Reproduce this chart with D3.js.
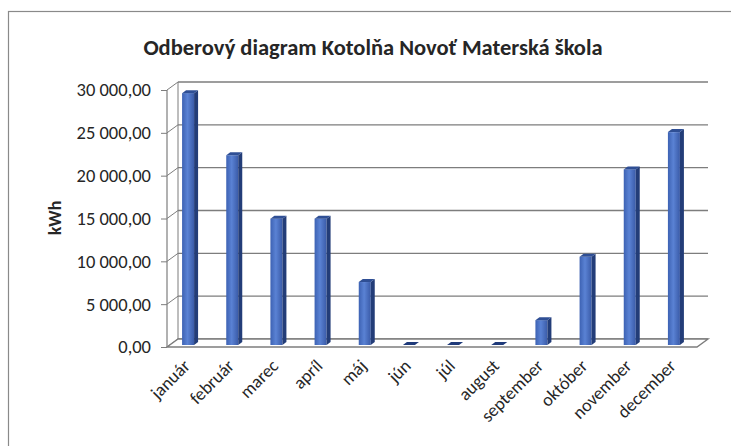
<!DOCTYPE html>
<html>
<head>
<meta charset="utf-8">
<script src="https://cdn.jsdelivr.net/npm/d3@7/dist/d3.min.js"></script>
<style>
  body { margin: 0; background: #fff; }
  text { font-family: Carlito, Lato, "Open Sans", sans-serif; fill: #262626; }
</style>
</head>
<body>
<div id="chart"></div>
<script>
// data
const months = ['január', 'február', 'marec', 'apríl', 'máj', 'jún', 'júl', 'august',
  'september', 'október', 'november', 'december'];
const kwh = [29400, 22150, 14750, 14750, 7350, 0, 0, 0, 2900, 10300, 20500, 24850];
const yTicks = [0, 5000, 10000, 15000, 20000, 25000, 30000];
const title = 'Odberový diagram Kotolňa Novoť Materská škola';
const yTitle = 'kWh';

const width = 731;
const height = 446;
// 3d box: front plane and back wall offset
const front = { left: 167, right: 697, top: 90, bottom: 347 };
const depth = { dx: 11, dy: -8 };
const barW = 12;
const barSide = 4;
const barRise = 3;

const svg = d3.select('#chart').append('svg')
  .attr('width', width)
  .attr('height', height);

// outer frame (scanned sheet)
svg.append('rect')
  .attr('x', 8.5).attr('y', 11.5)
  .attr('width', 740).attr('height', 460)
  .attr('fill', 'none')
  .attr('stroke', '#8a8a8a')
  .attr('stroke-width', 1.2);

svg.append('text')
  .attr('x', 373).attr('y', 55)
  .attr('text-anchor', 'middle')
  .style('font-size', '22.5px')
  .style('font-weight', 'bold')
  .text(title);

const y = d3.scaleLinear()
  .domain([0, 30000])
  .range([front.bottom, front.top]);

const x = d3.scaleBand()
  .domain(months)
  .range([front.left - 1, front.right - 1]);

const grid = svg.append('g');
const gridColor = '#7d7d7d';

// back wall gridlines
grid.selectAll('line.h')
  .data(yTicks)
  .enter()
  .append('line')
  .attr('x1', front.left + depth.dx)
  .attr('x2', front.right + depth.dx)
  .attr('y1', (d) => y(d) + depth.dy)
  .attr('y2', (d) => y(d) + depth.dy)
  .attr('stroke', gridColor)
  .attr('stroke-width', 1.4);

// side wall diagonals
grid.selectAll('line.s')
  .data(yTicks)
  .enter()
  .append('line')
  .attr('x1', front.left)
  .attr('x2', front.left + depth.dx)
  .attr('y1', (d) => y(d))
  .attr('y2', (d) => y(d) + depth.dy)
  .attr('stroke', gridColor)
  .attr('stroke-width', 1);

// left front edge and back wall edge
grid.append('line')
  .attr('x1', front.left).attr('x2', front.left)
  .attr('y1', y(30000)).attr('y2', y(0))
  .attr('stroke', gridColor).attr('stroke-width', 1.2);
grid.append('line')
  .attr('x1', front.left + depth.dx).attr('x2', front.left + depth.dx)
  .attr('y1', y(30000) + depth.dy).attr('y2', y(0) + depth.dy)
  .attr('stroke', gridColor).attr('stroke-width', 1);

// floor
grid.append('path')
  .attr('d', `M${front.left},${y(0)}L${front.right},${y(0)}L${front.right + depth.dx},${y(0) + depth.dy}L${front.left + depth.dx},${y(0) + depth.dy}Z`)
  .attr('fill', '#fff')
  .attr('stroke', gridColor)
  .attr('stroke-width', 1.4);

// y axis ticks and labels
const yAxis = svg.append('g')
  .attr('transform', `translate(${front.left},0)`)
  .call(d3.axisLeft(y)
    .tickValues(yTicks)
    .tickSize(6)
    .tickPadding(10)
    .tickFormat((d) => d3.format(',.2f')(d).replace(/,/g, ' ').replace('.', ',')));
yAxis.select('.domain').remove();
yAxis.selectAll('.tick line').attr('stroke', gridColor);
yAxis.selectAll('.tick text')
  .style('font-size', '18.5px')
  .style('font-family', 'Carlito, Lato, "Open Sans", sans-serif')
  .attr('fill', '#262626');

svg.append('text')
  .attr('transform', 'translate(61,218) rotate(-90)')
  .attr('text-anchor', 'middle')
  .style('font-size', '18px')
  .style('font-weight', 'bold')
  .text(yTitle);

// bars
const bar0 = y(0) - 2;
const yb = (v) => y(v) - 2;

const grad = svg.append('defs').append('linearGradient')
  .attr('id', 'barGrad').attr('x1', 0).attr('x2', 1);
grad.append('stop').attr('offset', 0).attr('stop-color', '#3d62b3');
grad.append('stop').attr('offset', 0.45).attr('stop-color', '#5a82d4');
grad.append('stop').attr('offset', 1).attr('stop-color', '#3a5ba8');

const bx = (i) => x(months[i]) + x.bandwidth() / 2 - barW / 2;

const bars = svg.append('g').selectAll('g').data(kwh).enter().append('g');

bars.each(function (d, i) {
  const g = d3.select(this);
  const left = bx(i);
  const top = yb(d);
  if (d > 0) {
    g.append('rect')
      .attr('x', left)
      .attr('y', top)
      .attr('width', barW)
      .attr('height', bar0 - top)
      .attr('fill', 'url(#barGrad)');
    // side face
    g.append('path')
      .attr('d', `M${left + barW},${top}L${left + barW + barSide},${top - barRise}L${left + barW + barSide},${bar0 - barRise}L${left + barW},${bar0}Z`)
      .attr('fill', '#233d78');
    // top face
    g.append('path')
      .attr('d', `M${left},${top}L${left + barSide},${top - barRise}L${left + barW + barSide},${top - barRise}L${left + barW},${top}Z`)
      .attr('fill', '#2f4f95');
  } else {
    g.append('path')
      .attr('d', `M${left},${top}L${left + barSide},${top - barRise}L${left + barW + barSide},${top - barRise}L${left + barW},${top}Z`)
      .attr('fill', '#1f3a7a');
  }
});

// x labels
svg.append('g').selectAll('text')
  .data(months)
  .enter()
  .append('text')
  .attr('transform', (d) => `translate(${x(d) + x.bandwidth() / 2 + 3},${y(0) + 20}) rotate(-45)`)
  .attr('text-anchor', 'end')
  .style('font-size', '18px')
  .text((d) => d);
</script>
</body>
</html>
